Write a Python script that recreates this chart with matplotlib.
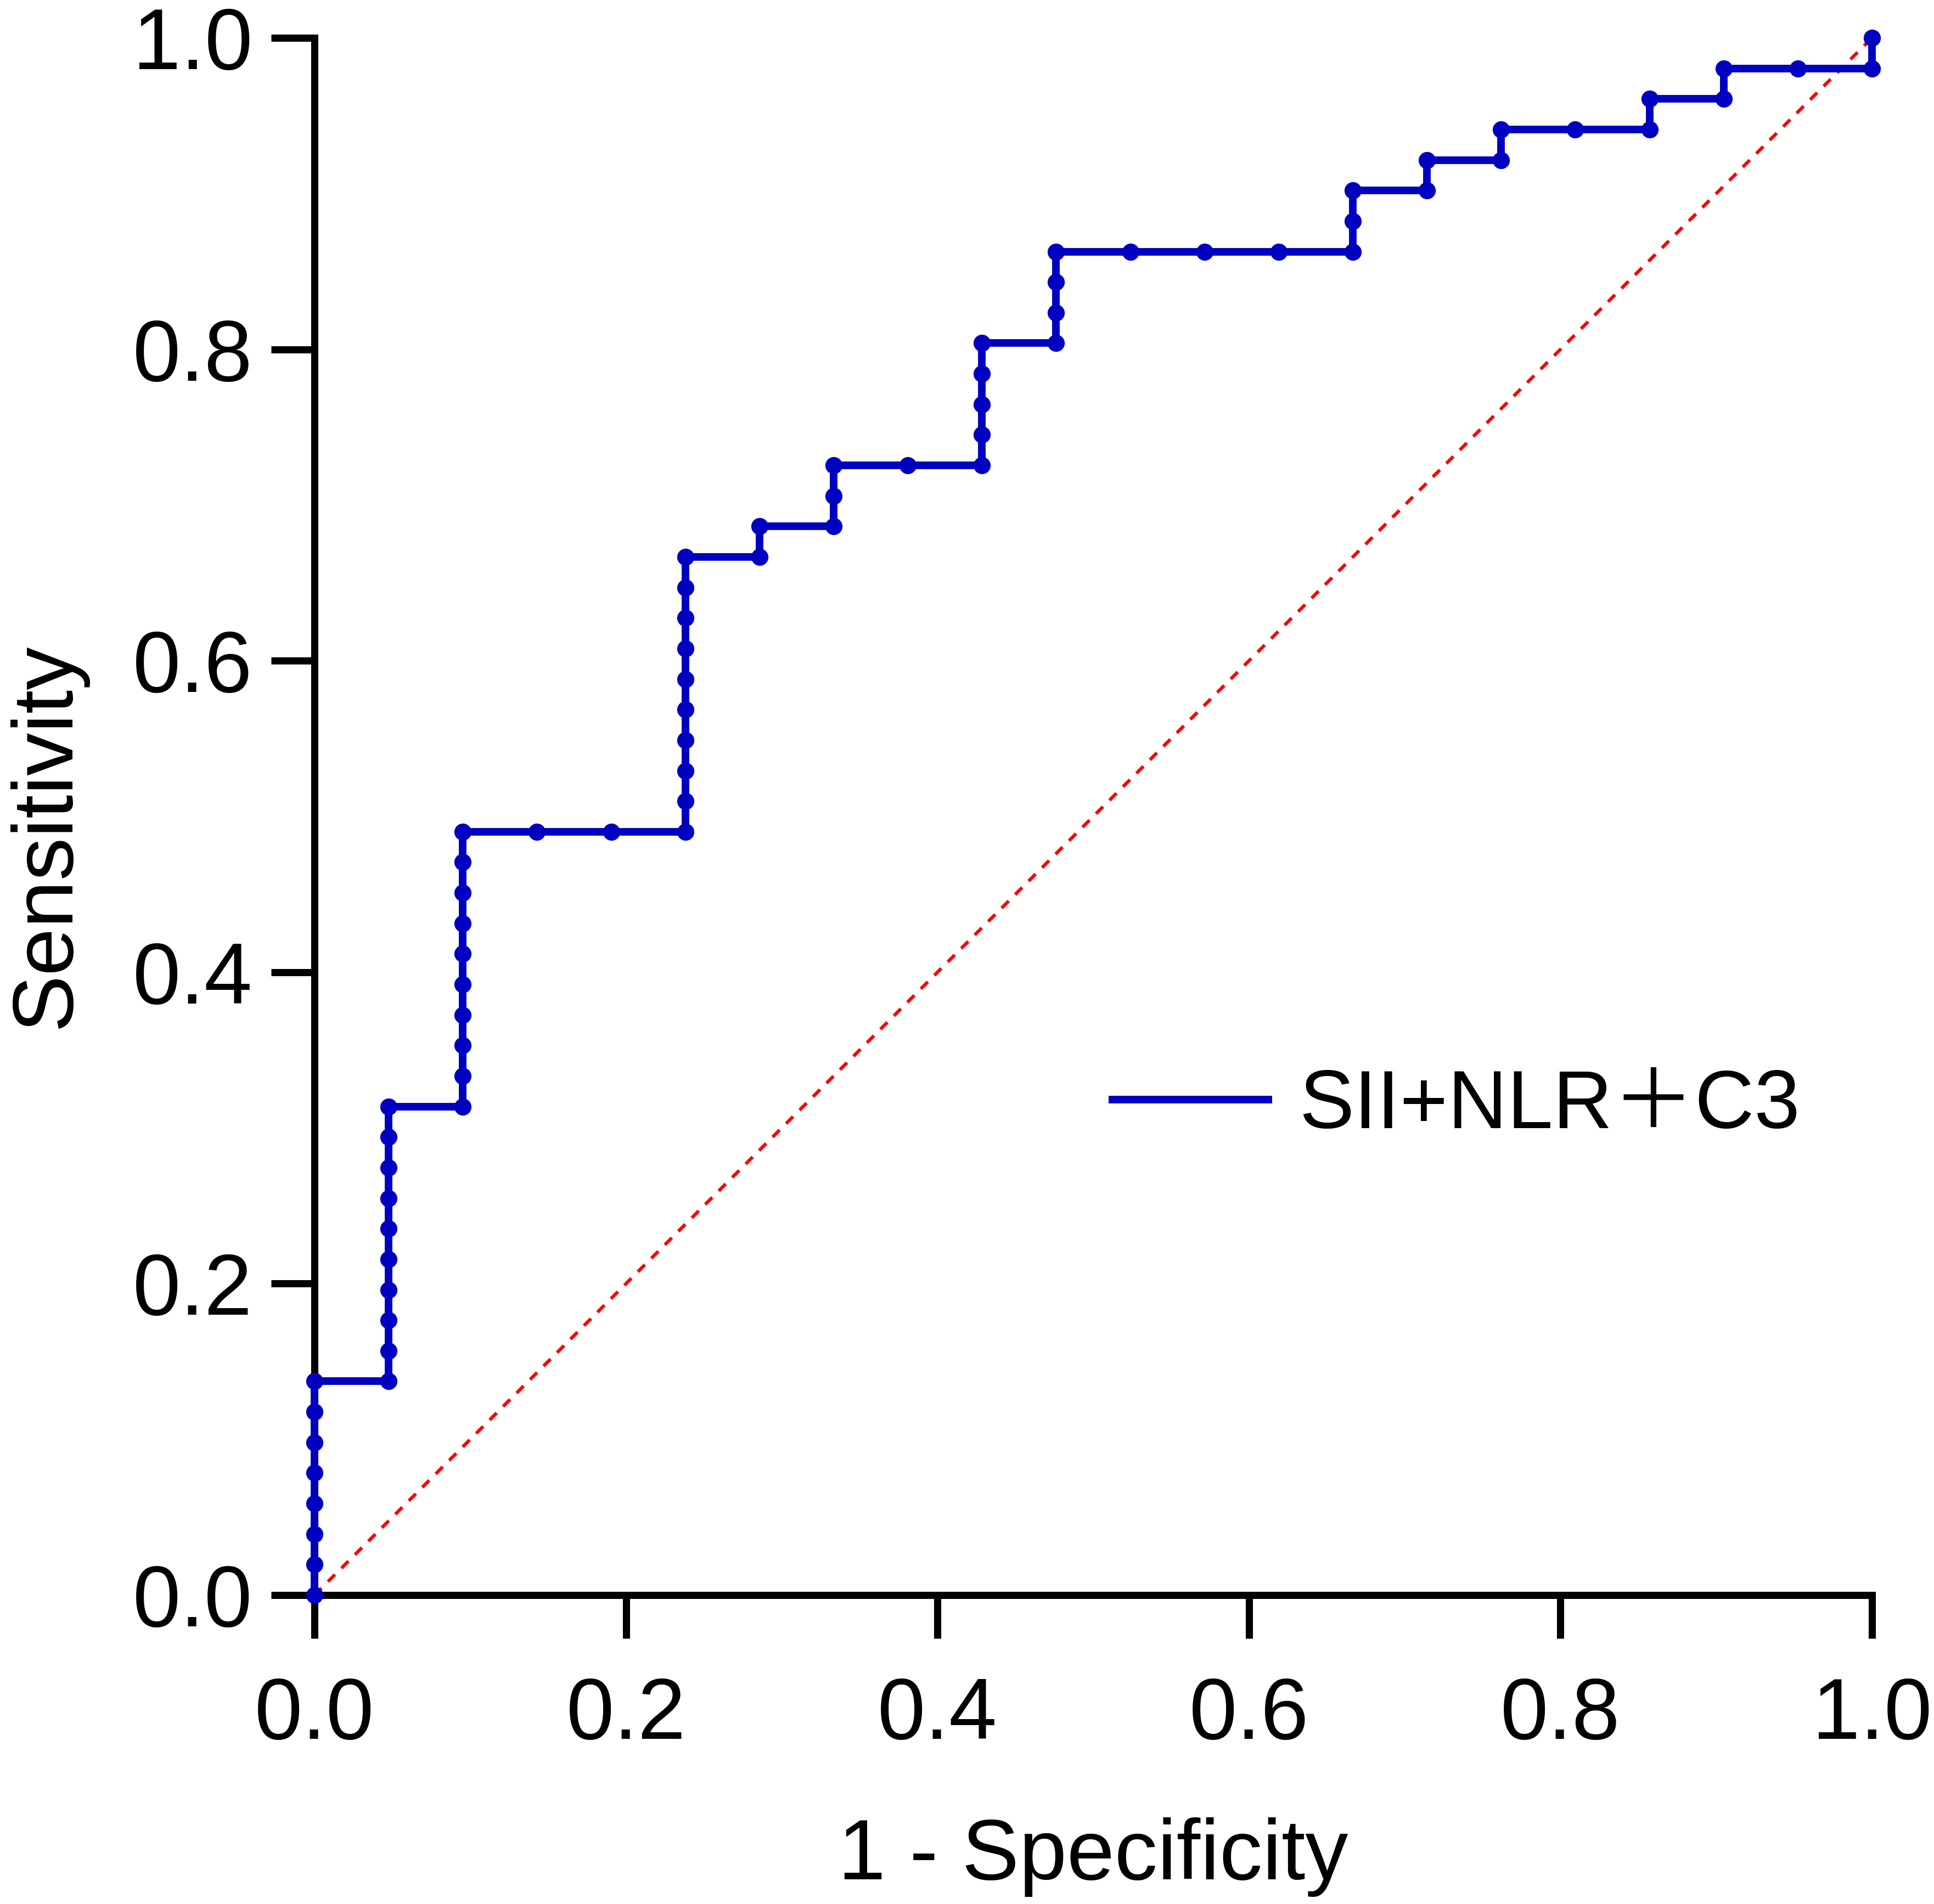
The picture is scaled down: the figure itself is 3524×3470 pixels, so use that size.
import matplotlib
matplotlib.use("Agg")
import matplotlib.pyplot as plt
from matplotlib.lines import Line2D
from matplotlib.font_manager import FontProperties
import numpy as np

# ---- data (counts read from the ROC steps: 21 negatives, 51 positives) ----
n_negative = 21
n_positive = 51
fp_count = [0, 0, 0, 0, 0, 0, 0, 0,
            1, 1, 1, 1, 1, 1, 1, 1, 1, 1,
            2, 2, 2, 2, 2, 2, 2, 2, 2, 2,
            3, 4,
            5, 5, 5, 5, 5, 5, 5, 5, 5, 5,
            6, 6,
            7, 7, 7,
            8,
            9, 9, 9, 9, 9,
            10, 10, 10, 10,
            11, 12, 13,
            14, 14, 14,
            15, 15,
            16, 16,
            17,
            18, 18,
            19, 19,
            20,
            21, 21]
tp_count = [0, 1, 2, 3, 4, 5, 6, 7,
            7, 8, 9, 10, 11, 12, 13, 14, 15, 16,
            16, 17, 18, 19, 20, 21, 22, 23, 24, 25,
            25, 25,
            25, 26, 27, 28, 29, 30, 31, 32, 33, 34,
            34, 35,
            35, 36, 37,
            37,
            37, 38, 39, 40, 41,
            41, 42, 43, 44,
            44, 44, 44,
            44, 45, 46,
            46, 47,
            47, 48,
            48,
            48, 49,
            49, 50,
            50,
            50, 51]
ref_x = [0.0, 1.0]
ref_y = [0.0, 1.0]
ticks = [0.0, 0.2, 0.4, 0.6, 0.8, 1.0]
tick_labels = ["0.0", "0.2", "0.4", "0.6", "0.8", "1.0"]
series_label = "SII+NLR\uff0bC3"
x_title = "1 - Specificity"
y_title = "Sensitivity"

fpr = np.array(fp_count) / n_negative
tpr = np.array(tp_count) / n_positive

plt.rcParams['font.family'] = ['Liberation Sans', 'DejaVu Sans']
plt.rcParams['lines.scale_dashes'] = False

W, H = 3524, 3470
fig = plt.figure(figsize=(W / 100, H / 100), dpi=100)
x0, x1, y_top, y_bot = 573, 3411, 69, 2907
ax = fig.add_axes([x0 / W, (H - y_bot) / H, (x1 - x0) / W, (y_bot - y_top) / H])

blue = '#0000C0'
ax.plot(ref_x, ref_y, color='#FF0000', linewidth=4.4, dashes=(13, 12),
        zorder=2, clip_on=False)
ax.plot(fpr, tpr, color=blue, linewidth=10, marker='o', markersize=22.5,
        markeredgewidth=0, zorder=3, clip_on=False)

ax.set_xlim(0, 1)
ax.set_ylim(0, 1)
ax.set_xticks(ticks)
ax.set_xticklabels(tick_labels)
ax.set_yticks(ticks)
ax.set_yticklabels(tick_labels)

for side in ['top', 'right']:
    ax.spines[side].set_visible(False)
for side in ['left', 'bottom']:
    ax.spines[side].set_linewidth(9.4)
    ax.spines[side].set_color('black')

ax.tick_params(axis='both', direction='out', length=56.9, width=9.4,
               labelsize=113, colors='black')
ax.tick_params(axis='x', pad=49.7)
ax.tick_params(axis='y', pad=24.5)

ax.text(-0.1575, 0.488, y_title, transform=ax.transAxes, rotation=90,
        rotation_mode='anchor', ha='center', va='baseline', fontsize=112.5)
ax.text(0.5, -0.18252, x_title, transform=ax.transAxes,
        ha='center', va='baseline', fontsize=112.5)

proxy = Line2D([], [], color=blue, linewidth=10)
prop = FontProperties(family=['Liberation Sans', 'Noto Sans CJK SC'], size=108)
ax.legend([proxy], [series_label], loc='upper left',
          bbox_to_anchor=(2027 / W, (H - 1947) / H), bbox_transform=fig.transFigure,
          frameon=False, borderpad=0, borderaxespad=0,
          handlelength=1.893, handletextpad=0.373, prop=prop)

fig.savefig('out.png', dpi=100, facecolor='white')
